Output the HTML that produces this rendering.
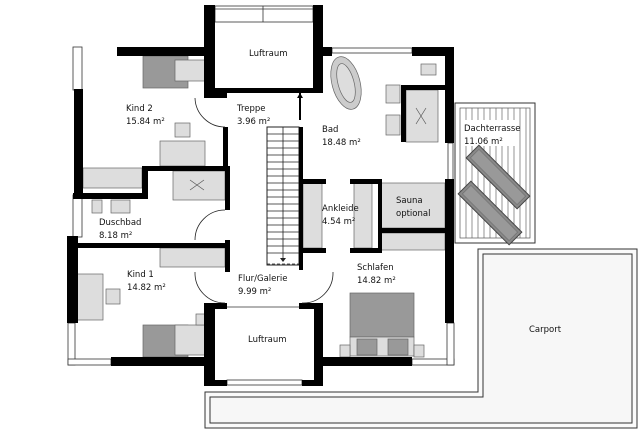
<!DOCTYPE html>
<html><head><meta charset="utf-8"><style>
html,body{margin:0;padding:0;background:#fff;width:640px;height:435px;overflow:hidden}
svg{display:block}
text{font-family:"DejaVu Sans","Liberation Sans",sans-serif;font-size:8.5px;fill:#111}
</style></head><body>
<svg width="640" height="435" viewBox="0 0 640 435" xmlns="http://www.w3.org/2000/svg">
<!-- carport & rail -->
<path d="M478,249 H637 V428 H205 V392 H478 Z" fill="#fafafa" stroke="#333" stroke-width="1"/>
<path d="M483,254 H632 V423 H210 V397 H483 Z" fill="#f7f7f7" stroke="#333" stroke-width="1"/>
<!-- Dachterrasse -->
<rect x="455" y="103" width="80" height="140" fill="#fff" stroke="#333"/>
<rect x="460" y="108" width="70" height="130" fill="#fff" stroke="#555" stroke-width="0.7"/>
<g stroke="#666" stroke-width="0.7">
<line x1="466" y1="108" x2="466" y2="238"/><line x1="472" y1="108" x2="472" y2="238"/><line x1="478" y1="108" x2="478" y2="238"/><line x1="484" y1="108" x2="484" y2="238"/><line x1="490" y1="108" x2="490" y2="238"/><line x1="496" y1="108" x2="496" y2="238"/><line x1="502" y1="108" x2="502" y2="238"/><line x1="508" y1="108" x2="508" y2="238"/><line x1="514" y1="108" x2="514" y2="238"/><line x1="520" y1="108" x2="520" y2="238"/><line x1="526" y1="108" x2="526" y2="238"/>
</g>
<rect x="462" y="120" width="55" height="26" fill="#fff"/>
<g transform="translate(498,177) rotate(45)"><rect x="-36" y="-9" width="72" height="18" fill="#888" stroke="#444"/><rect x="-33" y="-6" width="66" height="12" fill="#999" stroke="#666" stroke-width="0.5"/></g>
<g transform="translate(490,213) rotate(45)"><rect x="-36" y="-9" width="72" height="18" fill="#888" stroke="#444"/><rect x="-33" y="-6" width="66" height="12" fill="#999" stroke="#666" stroke-width="0.5"/></g>
<!-- furniture -->
<g stroke="#666" stroke-width="0.7">
<!-- Kind2 -->
<rect x="143" y="56" width="45" height="32" fill="#999"/>
<rect x="175" y="60" width="32" height="21" fill="#ddd"/>
<rect x="175" y="123" width="15" height="14" fill="#ddd"/>
<rect x="160" y="141" width="45" height="25" fill="#ddd"/>
<rect x="83" y="168" width="59" height="20" fill="#ddd"/>
<!-- Duschbad -->
<rect x="173" y="171" width="52" height="29" fill="#ddd"/>
<path d="M190,180 l14,10 M190,190 l14,-10" stroke="#555"/>
<rect x="92" y="200" width="10" height="13" fill="#ddd"/>
<rect x="111" y="200" width="19" height="13" fill="#ddd"/>
<!-- Kind1 -->
<rect x="160" y="248" width="65" height="19" fill="#ddd"/>
<rect x="77" y="274" width="26" height="46" fill="#ddd"/>
<rect x="106" y="289" width="14" height="15" fill="#ddd"/>
<rect x="143" y="325" width="45" height="32" fill="#999"/>
<rect x="175" y="325" width="30" height="30" fill="#ddd"/>
<rect x="196" y="314" width="11" height="11" fill="#ddd"/>
<!-- Bad -->
<ellipse cx="346" cy="83" rx="14" ry="27" transform="rotate(-15 346 83)" fill="#ccc"/>
<ellipse cx="346" cy="83" rx="8" ry="20" transform="rotate(-15 346 83)" fill="#ddd"/>
<rect x="386" y="85" width="14" height="18" fill="#ddd"/>
<rect x="386" y="115" width="14" height="20" fill="#ddd"/>
<rect x="421" y="64" width="15" height="11" fill="#ddd"/>
<rect x="406" y="90" width="32" height="52" fill="#ddd"/>
<path d="M416,108 l10,16 M416,124 l10,-16" stroke="#555"/>
<!-- Ankleide / Sauna -->
<rect x="303" y="183" width="19" height="65" fill="#ddd"/>
<rect x="354" y="183" width="18" height="65" fill="#ddd"/>
<rect x="381" y="183" width="64" height="45" fill="#ddd"/>
<rect x="381" y="233" width="64" height="17" fill="#ddd"/>
<!-- Schlafen -->
<rect x="350" y="293" width="64" height="44" fill="#999"/>
<rect x="350" y="337" width="64" height="19" fill="#ddd"/>
<rect x="357" y="339" width="20" height="16" fill="#999"/>
<rect x="388" y="339" width="20" height="16" fill="#999"/>
<rect x="340" y="345" width="10" height="12" fill="#ddd"/>
<rect x="414" y="345" width="10" height="12" fill="#ddd"/>
</g>
<!-- stair -->
<rect x="267" y="127" width="32" height="138" fill="#fff" stroke="#222"/>
<g stroke="#222" stroke-width="0.8">
<line x1="267" y1="134" x2="299" y2="134"/><line x1="267" y1="141" x2="299" y2="141"/><line x1="267" y1="148" x2="299" y2="148"/><line x1="267" y1="155" x2="299" y2="155"/><line x1="267" y1="162" x2="299" y2="162"/><line x1="267" y1="169" x2="299" y2="169"/><line x1="267" y1="176" x2="299" y2="176"/><line x1="267" y1="183" x2="299" y2="183"/><line x1="267" y1="190" x2="299" y2="190"/><line x1="267" y1="197" x2="299" y2="197"/><line x1="267" y1="204" x2="299" y2="204"/><line x1="267" y1="211" x2="299" y2="211"/><line x1="267" y1="218" x2="299" y2="218"/><line x1="267" y1="225" x2="299" y2="225"/><line x1="267" y1="232" x2="299" y2="232"/><line x1="267" y1="239" x2="299" y2="239"/><line x1="267" y1="246" x2="299" y2="246"/><line x1="267" y1="253" x2="299" y2="253"/>
<line x1="283" y1="127" x2="283" y2="258"/>
<line x1="267" y1="264" x2="299" y2="264" stroke-dasharray="3,2"/>
</g>
<path d="M280,258 h6 l-3,4z" fill="#222"/>
<!-- windows -->
<g fill="#fff" stroke="#333" stroke-width="0.8">
<rect x="215" y="6" width="98" height="16"/><line x1="263" y1="6" x2="263" y2="22"/><line x1="215" y1="9" x2="313" y2="9"/>
<rect x="332" y="48" width="80" height="5"/>
<rect x="73" y="47" width="9" height="43"/>
<rect x="73" y="195" width="9" height="42"/>
<rect x="68" y="323" width="7" height="42"/>
<rect x="68" y="359" width="43" height="6"/>
<rect x="412" y="359" width="42" height="6"/>
<rect x="447" y="323" width="7" height="42"/>
<rect x="448" y="143" width="5" height="37"/>
<rect x="227" y="380" width="75" height="5"/>
</g>
<!-- walls -->
<g fill="#000">
<rect x="204" y="5" width="11" height="93"/>
<rect x="313" y="5" width="10" height="88"/>
<rect x="204" y="88" width="119" height="5"/>
<rect x="215" y="93" width="12" height="5"/>
<rect x="117" y="47" width="88" height="9"/>
<rect x="323" y="47" width="9" height="9"/>
<rect x="412" y="47" width="42" height="9"/>
<rect x="445" y="47" width="9" height="96"/>
<rect x="445" y="179" width="9" height="144"/>
<rect x="401" y="85" width="44" height="5"/>
<rect x="401" y="85" width="5" height="57"/>
<rect x="74" y="89" width="9" height="110"/>
<rect x="142" y="166" width="86" height="5"/>
<rect x="142" y="166" width="6" height="33"/>
<rect x="73" y="193" width="75" height="6"/>
<rect x="223" y="127" width="5" height="44"/>
<rect x="225" y="166" width="5" height="44"/>
<rect x="225" y="240" width="5" height="32"/>
<rect x="67" y="236" width="11" height="87"/>
<rect x="78" y="243" width="152" height="5"/>
<rect x="299" y="93" width="2" height="27"/>
<rect x="299" y="127" width="4" height="143"/>
<rect x="303" y="179" width="23" height="5"/>
<rect x="350" y="179" width="28" height="5"/>
<rect x="303" y="248" width="23" height="5"/>
<rect x="350" y="248" width="28" height="5"/>
<rect x="378" y="179" width="4" height="74"/>
<rect x="382" y="228" width="63" height="5"/>
<rect x="111" y="357" width="94" height="9"/>
<rect x="323" y="357" width="89" height="9"/>
<rect x="204" y="303" width="11" height="83"/>
<rect x="314" y="303" width="9" height="83"/>
<rect x="204" y="303" width="23" height="6"/>
<rect x="299" y="303" width="24" height="6"/>
<rect x="204" y="380" width="23" height="6"/>
<rect x="302" y="380" width="21" height="6"/>
</g>
<line x1="227" y1="307" x2="299" y2="307" stroke="#333" stroke-width="0.8"/>
<path d="M297,98 l3,-5 l3,5z" fill="#000"/>
<!-- door arcs -->
<g fill="none" stroke="#222" stroke-width="0.8">
<path d="M195,98 A30,30 0 0 0 225,127"/>
<path d="M225,210 A30,30 0 0 0 195,240"/>
<path d="M195,272 A30,30 0 0 0 225,303"/>
<path d="M333,272 A30,30 0 0 1 302,303"/>
</g>
<!-- labels -->
<text x="249" y="56">Luftraum</text>
<text x="126" y="111">Kind 2</text><text x="126" y="124">15.84 m²</text>
<text x="237" y="111">Treppe</text><text x="237" y="124">3.96 m²</text>
<text x="322" y="132">Bad</text><text x="322" y="145">18.48 m²</text>
<text x="464" y="131">Dachterrasse</text><text x="464" y="144">11.06 m²</text>
<text x="99" y="225">Duschbad</text><text x="99" y="238">8.18 m²</text>
<text x="322" y="211">Ankleide</text><text x="322" y="224">4.54 m²</text>
<text x="396" y="203">Sauna</text><text x="396" y="216">optional</text>
<text x="238" y="281">Flur/Galerie</text><text x="238" y="294">9.99 m²</text>
<text x="127" y="277">Kind 1</text><text x="127" y="290">14.82 m²</text>
<text x="357" y="270">Schlafen</text><text x="357" y="283">14.82 m²</text>
<text x="248" y="342">Luftraum</text>
<text x="529" y="332">Carport</text>
</svg>
</body></html>
